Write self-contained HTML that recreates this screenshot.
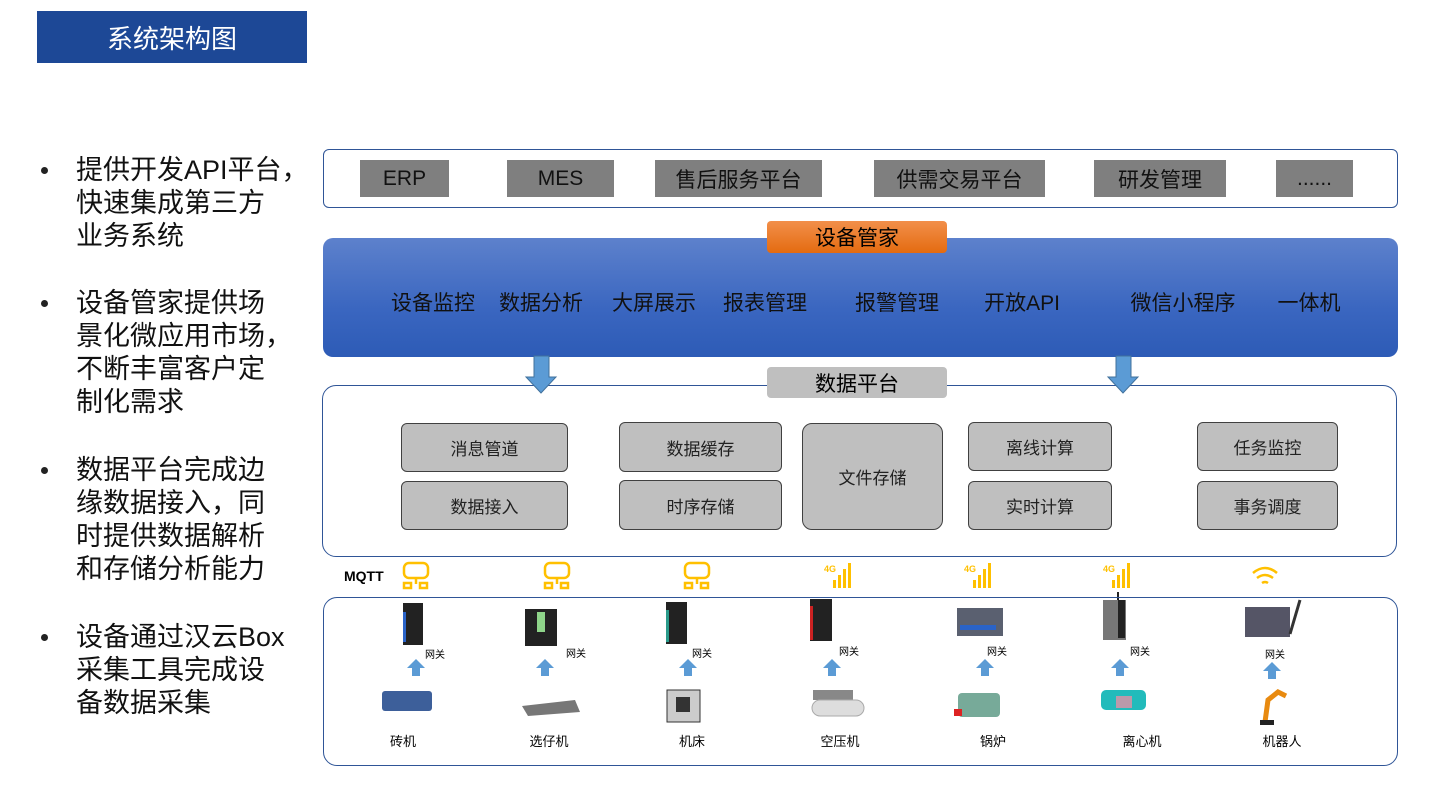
<!DOCTYPE html>
<html><head><meta charset="utf-8"><style>
*{margin:0;padding:0;box-sizing:border-box}
body{width:1440px;height:793px;background:#fff;position:relative;overflow:hidden;font-family:"Liberation Sans","Noto Sans CJK SC",sans-serif;color:#000}
.a{position:absolute}
.c{display:flex;align-items:center;justify-content:center}
.g{background:#7f7f7f;font-size:21px;color:#111}
.ib{background:#bfbfbf;border:1.5px solid #404040;border-radius:6px;font-size:17px;color:#222}
.bl{font-size:27px;line-height:33px;left:76px;white-space:nowrap;color:#111}
.dot{left:41px;width:7px;height:7px;border-radius:50%;background:#222}
.it{font-size:21px;top:287px;color:#111;white-space:nowrap;transform:translateX(-50%)}
.lbl{font-size:13px;top:731px;transform:translateX(-50%);white-space:nowrap}
.wg{font-size:10px;white-space:nowrap}
</style></head><body>
<div class="a c" style="left:37px;top:11px;width:270px;height:52px;background:#1d4896;color:#fff;font-size:26px">系统架构图</div>

<div class="a dot" style="top:167px"></div>
<div class="a bl" style="top:154px">提供开发API平台，<br>快速集成第三方<br>业务系统</div>
<div class="a dot" style="top:300px"></div>
<div class="a bl" style="top:287px">设备管家提供场<br>景化微应用市场，<br>不断丰富客户定<br>制化需求</div>
<div class="a dot" style="top:467px"></div>
<div class="a bl" style="top:454px">数据平台完成边<br>缘数据接入，同<br>时提供数据解析<br>和存储分析能力</div>
<div class="a dot" style="top:634px"></div>
<div class="a bl" style="top:621px">设备通过汉云Box<br>采集工具完成设<br>备数据采集</div>

<div class="a" style="left:323px;top:149px;width:1075px;height:59px;border:1.5px solid #2f5597;border-radius:6px"></div>
<div class="a c g" style="left:360px;top:160px;width:89px;height:37px">ERP</div>
<div class="a c g" style="left:507px;top:160px;width:107px;height:37px">MES</div>
<div class="a c g" style="left:655px;top:160px;width:167px;height:37px">售后服务平台</div>
<div class="a c g" style="left:874px;top:160px;width:171px;height:37px">供需交易平台</div>
<div class="a c g" style="left:1094px;top:160px;width:132px;height:37px">研发管理</div>
<div class="a c g" style="left:1276px;top:160px;width:77px;height:37px">......</div>

<div class="a" style="left:323px;top:238px;width:1075px;height:119px;border-radius:10px;background:linear-gradient(#5d81cc,#3a66c0 60%,#2d5bb6)"></div>
<div class="a c" style="left:767px;top:221px;width:180px;height:32px;border-radius:4px;background:linear-gradient(#f28f4a,#e46b10);font-size:21px">设备管家</div>
<div class="a it" style="left:433px">设备监控</div>
<div class="a it" style="left:541px">数据分析</div>
<div class="a it" style="left:654px">大屏展示</div>
<div class="a it" style="left:765px">报表管理</div>
<div class="a it" style="left:897px">报警管理</div>
<div class="a it" style="left:1022px">开放API</div>
<div class="a it" style="left:1183px">微信小程序</div>
<div class="a it" style="left:1309px">一体机</div>

<div class="a" style="left:322px;top:385px;width:1075px;height:172px;border:1.5px solid #2f5597;border-radius:14px"></div>
<svg class="a" style="left:0;top:0" width="1440" height="793">
<g fill="#5b9bd5" stroke="#41719c" stroke-width="1">
<polygon points="534,356 549,356 549,377 556,377 541,393 526,377 534,377"/>
<polygon points="1116,356 1131,356 1131,377 1138,377 1123,393 1108,377 1116,377"/>
</g>
<g fill="#5b9bd5">
<polygon points="412,676 420,676 420,668 425,668 416,659 407,668 412,668"/>
<polygon points="541,676 549,676 549,668 554,668 545,659 536,668 541,668"/>
<polygon points="684,676 692,676 692,668 697,668 688,659 679,668 684,668"/>
<polygon points="828,676 836,676 836,668 841,668 832,659 823,668 828,668"/>
<polygon points="981,676 989,676 989,668 994,668 985,659 976,668 981,668"/>
<polygon points="1116,676 1124,676 1124,668 1129,668 1120,659 1111,668 1116,668"/>
<polygon points="1268,679 1276,679 1276,671 1281,671 1272,662 1263,671 1268,671"/>
</g>
<g fill="none" stroke="#ffc000" stroke-width="2.5">
<rect x="404" y="563" width="24" height="15" rx="5"/><line x1="416" y1="578" x2="416" y2="584"/><rect x="404" y="583" width="7" height="5"/><rect x="420" y="583" width="7" height="5"/>
<rect x="545" y="563" width="24" height="15" rx="5"/><line x1="557" y1="578" x2="557" y2="584"/><rect x="545" y="583" width="7" height="5"/><rect x="561" y="583" width="7" height="5"/>
<rect x="685" y="563" width="24" height="15" rx="5"/><line x1="697" y1="578" x2="697" y2="584"/><rect x="685" y="583" width="7" height="5"/><rect x="701" y="583" width="7" height="5"/>
<path d="M1253,573 q12,-10 24,0 M1257,578 q8,-6 16,0 M1262,583 q3,-2 6,0"/>
</g>
<g fill="#ffc000" font-size="9" font-weight="bold" font-family="Liberation Sans">
<text x="824" y="572">4G</text><rect x="833" y="580" width="3" height="8"/><rect x="838" y="575" width="3" height="13"/><rect x="843" y="569" width="3" height="19"/><rect x="848" y="563" width="3" height="25"/>
<text x="964" y="572">4G</text><rect x="973" y="580" width="3" height="8"/><rect x="978" y="575" width="3" height="13"/><rect x="983" y="569" width="3" height="19"/><rect x="988" y="563" width="3" height="25"/>
<text x="1103" y="572">4G</text><rect x="1112" y="580" width="3" height="8"/><rect x="1117" y="575" width="3" height="13"/><rect x="1122" y="569" width="3" height="19"/><rect x="1127" y="563" width="3" height="25"/>
</g>
<g>
<rect x="403" y="603" width="20" height="42" fill="#222"/><rect x="403" y="612" width="3" height="30" fill="#2a63c8"/>
<rect x="525" y="609" width="32" height="37" fill="#222"/><rect x="537" y="612" width="8" height="20" fill="#8fd58a"/>
<rect x="666" y="602" width="21" height="42" fill="#222"/><rect x="666" y="610" width="3" height="32" fill="#2a9a8a"/>
<rect x="810" y="599" width="22" height="42" fill="#222"/><rect x="810" y="606" width="3" height="34" fill="#c22"/>
<rect x="957" y="608" width="46" height="28" fill="#5a6070"/><rect x="960" y="625" width="36" height="5" fill="#2a63c8"/>
<rect x="1103" y="600" width="23" height="40" fill="#777"/><rect x="1118" y="600" width="7" height="38" fill="#222"/><line x1="1118" y1="592" x2="1118" y2="600" stroke="#222" stroke-width="2"/>
<rect x="1245" y="607" width="45" height="30" fill="#556" /><line x1="1290" y1="634" x2="1300" y2="600" stroke="#333" stroke-width="3"/>
</g>
<g>
<rect x="382" y="691" width="50" height="20" fill="#3d5f9a" rx="3"/>
<polygon points="522,706 575,700 580,712 528,716" fill="#777"/>
<rect x="667" y="690" width="33" height="32" fill="#ccc" stroke="#333"/><rect x="676" y="697" width="14" height="15" fill="#333"/>
<rect x="813" y="690" width="40" height="10" fill="#888"/><rect x="812" y="700" width="52" height="16" rx="8" fill="#ddd" stroke="#aaa"/>
<rect x="958" y="693" width="42" height="24" fill="#7a9" rx="4"/><rect x="954" y="709" width="8" height="7" fill="#d22"/>
<rect x="1101" y="690" width="45" height="20" fill="#2bb" rx="5"/><rect x="1116" y="696" width="16" height="12" fill="#b9a"/>
<path d="M1265,722 l3,-22 l10,-8 l8,4" stroke="#e88a10" stroke-width="5" fill="none"/><rect x="1260" y="720" width="14" height="5" fill="#222"/>
</g>
</svg>
<div class="a c" style="left:767px;top:367px;width:180px;height:31px;border-radius:4px;background:#bfbfbf;font-size:21px">数据平台</div>
<div class="a c ib" style="left:401px;top:423px;width:167px;height:49px">消息管道</div>
<div class="a c ib" style="left:401px;top:481px;width:167px;height:49px">数据接入</div>
<div class="a c ib" style="left:619px;top:422px;width:163px;height:50px">数据缓存</div>
<div class="a c ib" style="left:619px;top:480px;width:163px;height:50px">时序存储</div>
<div class="a c ib" style="left:802px;top:423px;width:141px;height:107px;border-radius:10px">文件存储</div>
<div class="a c ib" style="left:968px;top:422px;width:144px;height:49px">离线计算</div>
<div class="a c ib" style="left:968px;top:481px;width:144px;height:49px">实时计算</div>
<div class="a c ib" style="left:1197px;top:422px;width:141px;height:49px">任务监控</div>
<div class="a c ib" style="left:1197px;top:481px;width:141px;height:49px">事务调度</div>

<div class="a" style="left:344px;top:568px;font-size:14px;font-weight:bold">MQTT</div>
<div class="a" style="left:323px;top:597px;width:1075px;height:169px;border:1.5px solid #2f5597;border-radius:14px"></div>

<div class="a wg" style="left:425px;top:646px">网关</div>
<div class="a wg" style="left:566px;top:645px">网关</div>
<div class="a wg" style="left:692px;top:645px">网关</div>
<div class="a wg" style="left:839px;top:643px">网关</div>
<div class="a wg" style="left:987px;top:643px">网关</div>
<div class="a wg" style="left:1130px;top:643px">网关</div>
<div class="a wg" style="left:1265px;top:646px">网关</div>

<div class="a lbl" style="left:403px">砖机</div>
<div class="a lbl" style="left:549px">选仔机</div>
<div class="a lbl" style="left:692px">机床</div>
<div class="a lbl" style="left:840px">空压机</div>
<div class="a lbl" style="left:993px">锅炉</div>
<div class="a lbl" style="left:1142px">离心机</div>
<div class="a lbl" style="left:1282px">机器人</div>
</body></html>
